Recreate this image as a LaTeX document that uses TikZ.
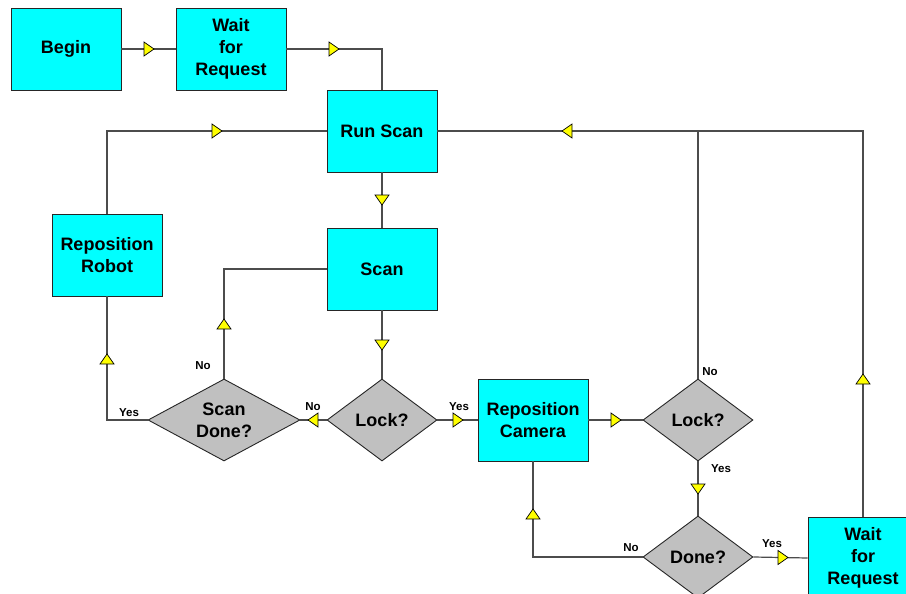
\documentclass[tikz,border=0pt]{standalone}
\usepackage{fontspec}
\setmainfont{Liberation Sans}
\usetikzlibrary{shapes.geometric}
\definecolor{boxcyan}{RGB}{0,255,255}
\definecolor{decgray}{RGB}{192,192,192}
\definecolor{markyellow}{RGB}{255,255,0}

\begin{document}
\begin{tikzpicture}[x=1pt,y=-1pt,
  box/.style={draw=black!85, line width=0.9pt, fill=boxcyan,
    minimum width=110pt, minimum height=82pt, inner sep=0pt, align=center,
    font=\fontsize{18}{22}\selectfont\bfseries},
  decision/.style={diamond, draw=black!85, line width=0.9pt, fill=decgray,
    inner sep=0pt, align=center, font=\fontsize{18}{22}\selectfont\bfseries},
  link/.style={draw=black!70, line width=1.2pt},
  lbl/.style={font=\fontsize{11.5}{13}\selectfont\bfseries, inner sep=0pt},
  tri/.pic={\draw[fill=markyellow, draw=black, line width=0.7pt, line join=miter]
    (0pt,0pt) -- (-10pt,7pt) -- (-10pt,-7pt) -- cycle;}
]
\useasboundingbox (0,0) rectangle (906,594);
\clip (0,0) rectangle (906,594);

% process boxes
\node[box] (begin)    at (66,49)   {Begin};
\node[box] (wait1)    at (231,49)  {Wait\\for\\Request};
\node[box] (runscan)  at (382,131) {Run Scan};
\node[box] (scan)     at (382,269) {Scan};
\node[box] (reprobot) at (107,255) {Reposition\\Robot};
\node[box] (repcam)   at (533,420) {Reposition\\Camera};
\node[box] (wait2)    at (863,558) {Wait\\for\\Request};

% decisions
\node[decision, minimum width=152pt, minimum height=82pt, aspect=1.85] (scandone) at (224,420) {Scan\\Done?};
\node[decision, minimum width=110pt, minimum height=82pt, aspect=1.34] (lock1) at (382,420) {Lock?};
\node[decision, minimum width=110pt, minimum height=82pt, aspect=1.34] (lock2) at (698,420) {Lock?};
\node[decision, minimum width=110pt, minimum height=82pt, aspect=1.34] (done)  at (698,557) {Done?};

\coordinate (join) at (lock2.north |- runscan.east);

% connectors
\draw[link] (begin.east) -- (wait1.west);
\draw[link] (wait1.east) -| (runscan.north);
\draw[link] (runscan.south) -- (scan.north);
\draw[link] (scan.south) -- (lock1.north);
\draw[link] (lock1.west) -- (scandone.east);
\draw[link] (lock1.east) -- (repcam.west);
\draw[link] (scandone.north) |- (scan.west);
\draw[link] (scandone.west) -| (reprobot.south);
\draw[link] (reprobot.north) |- (runscan.west);
\draw[link] (repcam.east) -- (lock2.west);
\draw[link] (lock2.south) -- (done.north);
\draw[link] (lock2.north) |- (runscan.east);
\draw[link] (done.west) -| (repcam.south);
\draw[link] (done.east) -- (wait2.west);
\draw[link] (wait2.north) |- (join);

% flow markers
\path (154,49)  pic {tri};
\path (339,49)  pic {tri};
\path (222,131) pic {tri};
\path (382,205) pic[rotate=270] {tri};
\path (382,350) pic[rotate=270] {tri};
\path (308,420) pic[rotate=180] {tri};
\path (463,420) pic {tri};
\path (224,319) pic[rotate=90] {tri};
\path (107,354) pic[rotate=90] {tri};
\path (621,420) pic {tri};
\path (698,494) pic[rotate=270] {tri};
\path (562,131) pic[rotate=180] {tri};
\path (533,509) pic[rotate=90] {tri};
\path (788,557.5) pic {tri};
\path (863,374) pic[rotate=90] {tri};

% branch labels
\node[lbl] (l1) at (313,407) {No};
\node[lbl] (l2) at (459,407) {Yes};
\node[lbl] (l3) at (203,366) {No};
\node[lbl] (l4) at (129,413) {Yes};
\node[lbl] (l5) at (710,372) {No};
\node[lbl] (l6) at (721,469) {Yes};
\node[lbl] (l7) at (631,548) {No};
\node[lbl] (l8) at (772,544) {Yes};
\end{tikzpicture}
\end{document}
